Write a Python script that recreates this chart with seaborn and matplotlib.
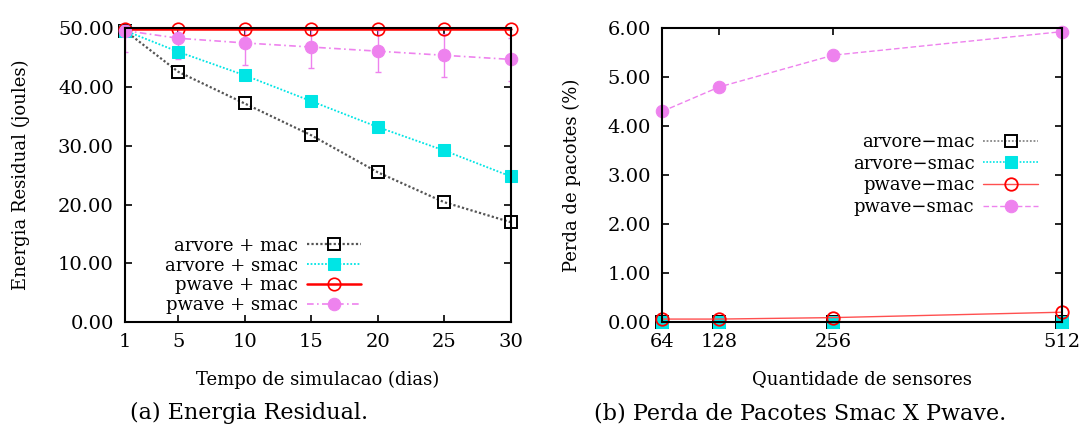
import numpy as np
import pandas as pd
import seaborn as sn
import matplotlib
matplotlib.use("Agg")
import matplotlib.pyplot as plt
from matplotlib.ticker import FormatStrFormatter

# Data - (a) energia residual
dias = [1, 5, 10, 15, 20, 25, 30]
arvore_mac = [49.6, 42.6, 37.2, 31.8, 25.5, 20.4, 17.0]
arvore_smac = [49.6, 46.0, 42.0, 37.6, 33.2, 29.2, 24.8]
pwave_mac = [49.8, 49.8, 49.8, 49.8, 49.8, 49.8, 49.8]
pwave_smac = [49.6, 48.3, 47.5, 46.8, 46.1, 45.4, 44.7]
pwave_smac_err = [3.6, 3.6, 3.7, 3.6, 3.6, 3.7, 3.7]

# Data - (b) perda de pacotes
sensores = [64, 128, 256, 512]
perda_arvore_mac = [0.0, 0.0, 0.0, 0.0]
perda_arvore_smac = [0.0, 0.0, 0.0, 0.0]
perda_pwave_mac = [0.06, 0.06, 0.09, 0.2]
perda_pwave_smac = [4.3, 4.8, 5.45, 5.93]

sn.set_theme(style="ticks")
plt.rcParams['font.family'] = ['DejaVu Serif']
plt.rcParams['font.size'] = 13
plt.rcParams['text.color'] = 'black'
plt.rcParams['axes.labelcolor'] = 'black'

fig = plt.figure(figsize=(10.8, 4.32), dpi=100)
ax1 = fig.add_axes([0.1157, 0.2546, 0.357, 0.680])
ax2 = fig.add_axes([0.613, 0.2546, 0.370, 0.680])

black = '#000000'
cyan = '#00e5e5'
red = '#ff0000'
violet = '#ee82ee'

# (a)
ax1.errorbar(dias, pwave_smac, yerr=pwave_smac_err, fmt='none', ecolor=violet,
             elinewidth=1.0, capsize=2)
sn.lineplot(x=dias, y=arvore_mac, ax=ax1, color='#555555', linestyle=(0, (1, 1)), lw=1.6,
            marker='s', markersize=9, markerfacecolor='none', markeredgecolor=black,
            markeredgewidth=1.4, label='arvore + mac', clip_on=False)
sn.lineplot(x=dias, y=arvore_smac, ax=ax1, color=cyan, linestyle=(0, (1, 1)), lw=1.3,
            marker='s', markersize=9, markerfacecolor=cyan, markeredgecolor=cyan,
            label='arvore + smac', clip_on=False)
sn.lineplot(x=dias, y=pwave_mac, ax=ax1, color=red, lw=1.8, marker='o', markersize=9,
            markerfacecolor='none', markeredgecolor=red, markeredgewidth=1.2,
            label='pwave + mac', clip_on=False)
sn.lineplot(x=dias, y=pwave_smac, ax=ax1, color=violet, lw=1.2,
            linestyle=(0, (4, 2, 1, 2)), marker='o', markersize=9, markerfacecolor=violet,
            markeredgecolor=violet, label='pwave + smac', clip_on=False)
ax1.set_xlim(1, 30)
ax1.set_ylim(0, 50)
ax1.set_xticks(dias)
ax1.set_yticks([0, 10, 20, 30, 40, 50])
ax1.yaxis.set_major_formatter(FormatStrFormatter('%.2f'))
ax1.set_xlabel('Tempo de simulacao (dias)', fontsize=13, labelpad=14)
ax1.set_ylabel('Energia Residual (joules)', fontsize=13, labelpad=20)
ax1.legend(loc='lower right', bbox_to_anchor=(0.64, -0.01), markerfirst=False, frameon=False,
           fontsize=13, handlelength=3.0, labelspacing=0.1, borderaxespad=0.2, handletextpad=0.5)

# (b)
sn.lineplot(x=sensores, y=perda_arvore_mac, ax=ax2, color='#888888', linestyle=(0, (1, 1)),
            lw=1.3, marker='s', markersize=9, markerfacecolor='none', markeredgecolor=black,
            markeredgewidth=1.4, label='arvore\u2212mac', clip_on=False)
sn.lineplot(x=sensores, y=perda_arvore_smac, ax=ax2, color=cyan, linestyle=(0, (1, 1)),
            lw=1.2, marker='s', markersize=9, markerfacecolor=cyan, markeredgecolor=cyan,
            label='arvore\u2212smac', clip_on=False)
sn.lineplot(x=sensores, y=perda_pwave_mac, ax=ax2, color='#ff5050', linestyle='-', lw=1.0,
            marker='o', markersize=9, markerfacecolor='none', markeredgecolor=red,
            markeredgewidth=1.3, label='pwave\u2212mac', clip_on=False)
sn.lineplot(x=sensores, y=perda_pwave_smac, ax=ax2, color=violet, linestyle=(0, (4, 2)),
            lw=1.0, marker='o', markersize=9, markerfacecolor=violet, markeredgecolor=violet,
            label='pwave\u2212smac', clip_on=False)
ax2.set_xlim(64, 512)
ax2.set_ylim(0, 6)
ax2.set_xticks(sensores)
ax2.set_yticks([0, 1, 2, 3, 4, 5, 6])
ax2.yaxis.set_major_formatter(FormatStrFormatter('%.2f'))
ax2.set_xlabel('Quantidade de sensores', fontsize=13, labelpad=14)
ax2.set_ylabel('Perda de pacotes (%)', fontsize=13, labelpad=19)
ax2.legend(loc='upper right', bbox_to_anchor=(0.967, 0.68), markerfirst=False, frameon=False,
           fontsize=13, handlelength=3.0, labelspacing=0.2, borderaxespad=0.2, handletextpad=0.5)

for ax in (ax1, ax2):
    for side in ax.spines.values():
        side.set_linewidth(1.5)
        side.set_color(black)
    ax.tick_params(direction='in', top=True, right=True, length=5, width=1.2,
                   labelsize=14, colors=black, pad=8)
    ax.set_zorder(1)

fig.text(0.231, 0.03, '(a) Energia Residual.', ha='center', fontsize=16)
fig.text(0.741, 0.03, '(b) Perda de Pacotes Smac X Pwave.', ha='center', fontsize=16)

plt.savefig('out.png', dpi=100)
